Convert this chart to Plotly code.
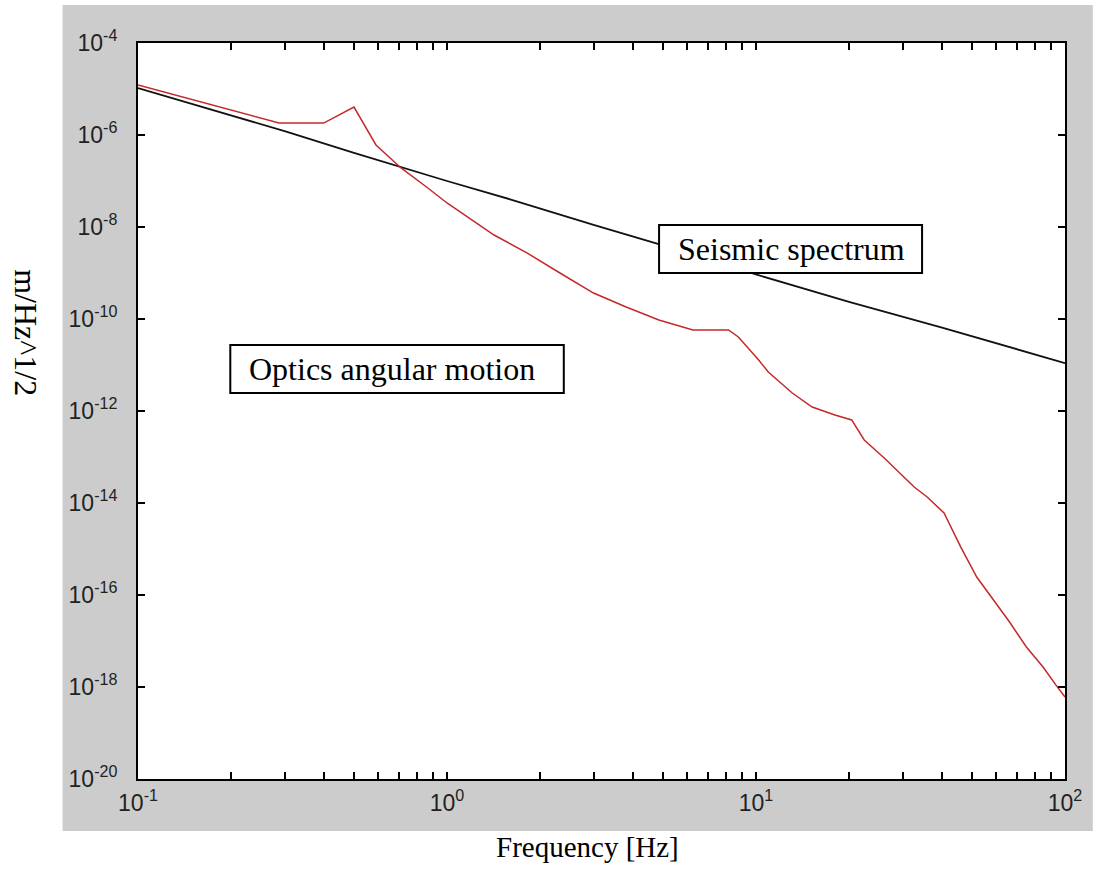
import plotly.graph_objects as go

# ---- data ----
seismic_freq = [0.1, 0.3, 0.5, 0.71, 1.0, 1.6, 2.0, 3.0, 5.0, 10.0, 20.0, 40.0, 100]
seismic_asd = [1.05e-5, 1.2e-6, 4.1e-7, 2.0e-7, 1.0e-7, 4.0e-8, 2.5e-8, 1.1e-8, 4.0e-9,
               9.3e-10, 2.35e-10, 6.5e-11, 1.1e-11]

optics_freq = [0.1, 0.286, 0.399, 0.50, 0.589, 0.71, 0.867, 1.0, 1.42, 1.69, 1.82, 2.32, 2.98,
               3.80, 4.85, 6.25, 8.15, 8.77, 10.2, 10.96, 13.1, 15.2, 18.0, 20.4, 22.4, 26.0,
               28.6, 32.5, 35.8, 40.6, 46.0, 51.8, 58.7, 66.5, 75.0, 84.9, 93.5, 100]
optics_asd = [1.22e-5, 1.82e-6, 1.82e-6, 4.06e-6, 6.07e-7, 1.92e-7, 7.05e-8, 3.33e-8, 6.7e-9,
              3.6e-9, 2.7e-9, 1.0e-9, 3.67e-10, 1.82e-10, 9.5e-11, 5.77e-11, 5.77e-11,
              4.06e-11, 1.29e-11, 7.05e-12, 2.46e-12, 1.22e-12, 8.2e-13, 6.4e-13, 2.34e-13,
              9.5e-14, 5.2e-14, 2.23e-14, 1.35e-14, 6.07e-15, 1.1e-15, 2.46e-16, 7.8e-17,
              2.46e-17, 7.4e-18, 2.72e-18, 1.1e-18, 6.07e-19]

x_decades = [-1, 0, 1, 2]
y_decades = [-4, -6, -8, -10, -12, -14, -16, -18, -20]

x_tickvals = [10.0 ** e for e in x_decades]
x_ticktext = [f"10<sup>{e}</sup>" for e in x_decades]
x_minorvals = [k * 10.0 ** e for e in x_decades[:-1] for k in range(2, 10)]
y_tickvals = [10.0 ** e for e in y_decades]
y_ticktext = [f"10<sup>{e}</sup>" for e in y_decades]

# ---- layout geometry (pixels) ----
W, H = 1094, 888
L, R, T, B = 138, 1072, 43, 779
PW, PH = R - L, B - T


def px(x):
    return (x - L) / PW


def py(y):
    return (B - y) / PH


fig = go.Figure()
fig.add_trace(go.Scatter(x=seismic_freq, y=seismic_asd, mode="lines",
                         line=dict(color="#111111", width=1.8), showlegend=False))
fig.add_trace(go.Scatter(x=optics_freq, y=optics_asd, mode="lines",
                         line=dict(color="#c62828", width=1.5), showlegend=False))

tickfont = dict(family="Liberation Sans, Arial, sans-serif", size=23, color="#222222")
fig.update_layout(
    width=W, height=H,
    margin=dict(l=L, r=W - R, t=T, b=H - B, pad=0),
    paper_bgcolor="white", plot_bgcolor="white",
    showlegend=False,
    xaxis=dict(type="log", range=[-1, 2], tickmode="array", tickvals=x_tickvals,
               ticktext=x_ticktext, ticks="inside", ticklen=7, tickwidth=1.5,
               tickcolor="black", showline=True, linecolor="black", linewidth=2,
               mirror="ticks", showgrid=False, zeroline=False, tickfont=tickfont,
               ticklabelstandoff=2,
               minor=dict(tickmode="array", tickvals=x_minorvals, ticks="inside",
                          ticklen=7, tickwidth=1.5, tickcolor="black", showgrid=False)),
    yaxis=dict(type="log", range=[-20, -4], tickmode="array", tickvals=y_tickvals,
               ticktext=y_ticktext, ticks="inside", ticklen=7, tickwidth=1.5,
               tickcolor="black", showline=True, linecolor="black", linewidth=2,
               mirror="ticks", showgrid=False, zeroline=False, tickfont=tickfont,
               ticklabelstandoff=14),
)

# grey figure background region and white plot area
fig.add_shape(type="rect", xref="paper", yref="paper", layer="below",
              x0=px(62), x1=px(1100), y0=py(831), y1=py(5),
              fillcolor="#cccccc", line=dict(width=0))
fig.add_shape(type="rect", xref="paper", yref="paper", layer="below",
              x0=0, x1=1, y0=0, y1=1, fillcolor="white", line=dict(width=0))

# text boxes
serif = "Liberation Serif, Times New Roman, serif"
boxes = [("Seismic spectrum", 663, 928, 225, 273, 680),
         ("Optics angular motion", 231, 567, 345, 393, 248)]
for text, x0, x1, y0, y1, tx in boxes:
    fig.add_shape(type="rect", xref="paper", yref="paper", layer="above",
                  x0=px(x0), x1=px(x1), y0=py(y1), y1=py(y0),
                  fillcolor="white", line=dict(color="black", width=2))
    fig.add_annotation(text=text, xref="paper", yref="paper", x=px(tx), y=py((y0 + y1) / 2),
                       xanchor="left", yanchor="middle", showarrow=False,
                       font=dict(family=serif, size=32, color="black"))

# axis titles
fig.add_annotation(text="Frequency [Hz]", xref="paper", yref="paper",
                   x=px(591), y=py(847), xanchor="center", yanchor="middle",
                   showarrow=False, font=dict(family=serif, size=29, color="black"))
fig.add_annotation(text="m/Hz^1/2", xref="paper", yref="paper",
                   x=px(25), y=py(333), xanchor="center", yanchor="middle",
                   textangle=90, showarrow=False,
                   font=dict(family=serif, size=32, color="black"))

fig.write_html("out.html")
